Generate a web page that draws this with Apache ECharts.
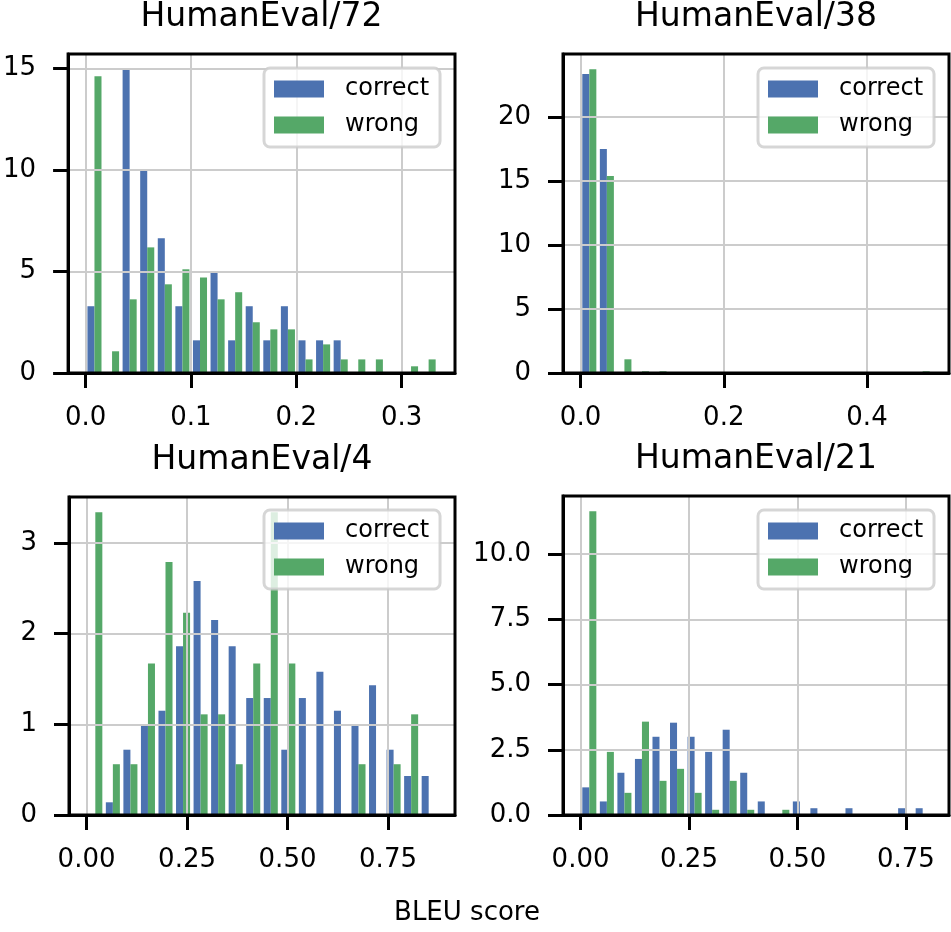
<!DOCTYPE html>
<html><head><meta charset="utf-8">
<script src="https://cdn.jsdelivr.net/npm/echarts@6/dist/echarts.min.js"></script>
<style>html,body{margin:0;padding:0;background:#fff}#c{width:951px;height:932px}</style>
</head><body><div id="c"></div>
<script>
// ---- data (density histograms, 20 equal bins over [start, end]) ----
const seriesNames = ['correct', 'wrong'];
const titles = ['HumanEval/72', 'HumanEval/38', 'HumanEval/4', 'HumanEval/21'];
const xLabelText = 'BLEU score';

const range72 = [0, 0.334];
const correct72 = [3.29,0,14.97,9.99,6.64,3.29,1.61,4.96,1.61,3.29,1.61,3.29,1.61,1.61,1.61,0,0,0,0,0];
const wrong72 = [14.62,1.07,3.63,6.19,4.37,5.11,4.71,3.63,3.98,2.50,2.15,2.15,0.67,1.41,0.67,0.67,0.67,0,0.33,0.67];
const xticks72 = [0, 0.1, 0.2, 0.3];
const yticks72 = [0, 5, 10, 15];

const range38 = [0, 0.49];
const correct38 = [23.36,17.50,0,0,0,0,0,0,0,0,0,0,0,0,0,0,0,0,0,0];
const wrong38 = [23.73,15.38,1.07,0.13,0.13,0,0,0,0,0,0,0,0,0,0,0,0,0,0,0.13];
const xticks38 = [0, 0.2, 0.4];
const yticks38 = [0, 5, 10, 15, 20];

const range4 = [0, 0.873];
const correct4 = [0,0.14,0.72,1.00,1.15,1.86,2.58,2.15,1.86,1.29,1.29,0.72,1.29,1.58,1.15,1.00,1.43,0.72,0.43,0.43];
const wrong4 = [3.34,0.56,0.56,1.67,2.79,2.23,1.11,1.11,0.56,1.67,3.34,1.67,0,0,0,0.56,0,0.56,1.11,0];
const xticks4 = [0, 0.25, 0.5, 0.75];
const yticks4 = [0, 1, 2, 3];

const range21 = [0, 0.809];
const correct21 = [1.06,0.52,1.62,2.15,3.00,3.54,3.00,2.42,3.27,1.62,0.52,0,0.52,0.26,0,0.26,0,0,0.26,0.26];
const wrong21 = [11.65,2.42,0.85,3.58,1.31,1.77,0.85,0.20,1.31,0.20,0,0.20,0,0,0,0,0,0,0,0];
const xticks21 = [0, 0.25, 0.5, 0.75];
const yticks21 = [0, 2.5, 5, 7.5, 10];

// ---- layout / style ----
const FONT = 'DejaVu Sans';
const COLORS = ['#4c72b0', '#55a868'];
const panels = [
  {title: titles[0], range: range72, vals: [correct72, wrong72], xt: xticks72, xd: 1, yt: yticks72, yd: 0,
   grid: {left: 68, top: 54, width: 387, height: 319}, legend: {left: 264, top: 68}},
  {title: titles[1], range: range38, vals: [correct38, wrong38], xt: xticks38, xd: 1, yt: yticks38, yd: 0,
   grid: {left: 563, top: 54, width: 386, height: 319}, legend: {left: 758, top: 68}},
  {title: titles[2], range: range4, vals: [correct4, wrong4], xt: xticks4, xd: 2, yt: yticks4, yd: 0,
   grid: {left: 69, top: 497, width: 386, height: 318}, legend: {left: 264, top: 510}},
  {title: titles[3], range: range21, vals: [correct21, wrong21], xt: xticks21, xd: 2, yt: yticks21, yd: 1,
   grid: {left: 563, top: 496, width: 386, height: 319}, legend: {left: 758, top: 510}}
];

const grids = [], xAxes = [], yAxes = [], series = [], legends = [], graphics = [];
panels.forEach((p, gi) => {
  const lo = p.range[0], hi = p.range[1], span = hi - lo;
  const n = p.vals[0].length, bw = span / n;
  const ymax = Math.max(...p.vals[0], ...p.vals[1]) * 1.05;
  grids.push(Object.assign({show: true, borderColor: '#000', borderWidth: 3, backgroundColor: 'transparent', z: 6}, p.grid));
  const axisCommon = (ticks, dec, margin) => ({
    axisLine: {show: true, onZero: false, lineStyle: {color: '#000', width: 3}},
    axisTick: {show: true, inside: false, length: 15, lineStyle: {color: '#000', width: 3}, customValues: ticks},
    axisLabel: {show: true, customValues: ticks, margin: margin, fontSize: 26, fontFamily: FONT, color: '#000',
                formatter: v => Number(v).toFixed(dec)},
    splitLine: {show: true, lineStyle: {color: '#cccccc', width: 2}},
    z: 5
  });
  xAxes.push(Object.assign({type: 'value', gridIndex: gi, min: lo - 0.05 * span, max: hi + 0.05 * span},
    axisCommon(p.xt, p.xd, 32)));
  yAxes.push(Object.assign({type: 'value', gridIndex: gi, min: 0, max: ymax}, axisCommon(p.yt, p.yd, 32)));
  p.vals.forEach((vals, k) => {
    const data = vals.map((v, i) => {
      const b0 = lo + i * bw;
      return [b0 + bw * (0.1 + 0.4 * k), b0 + bw * (0.5 + 0.4 * k), v];
    });
    series.push({
      type: 'custom', name: seriesNames[k], xAxisIndex: gi, yAxisIndex: gi, z: 2,
      itemStyle: {color: COLORS[k]}, encode: {x: [0, 1], y: 2}, data: data,
      renderItem: (params, api) => {
        const a = api.coord([api.value(0), api.value(2)]);
        const b = api.coord([api.value(1), 0]);
        return {type: 'rect', shape: {x: a[0], y: a[1], width: b[0] - a[0], height: b[1] - a[1]},
                style: {fill: COLORS[k]}};
      }
    });
  });
  legends.push({
    left: p.legend.left, top: p.legend.top, orient: 'vertical', z: 10,
    data: seriesNames.map(s => ({name: s, icon: 'rect'})),
    itemWidth: 50, itemHeight: 17, itemGap: 12,
    padding: [9, 11, 10, 10],
    backgroundColor: 'rgba(255,255,255,0.8)', borderColor: 'rgba(204,204,204,0.8)', borderWidth: 3, borderRadius: 6,
    textStyle: {fontSize: 24, fontFamily: FONT, color: '#000', padding: [0, 0, 0, 16]},
    selectedMode: false
  });
  const cx = p.grid.left + p.grid.width / 2;
  graphics.push({type: 'text', x: cx, y: p.grid.top - 37, z: 20,
    style: {text: p.title, align: 'center', verticalAlign: 'middle', fontSize: 33, fontFamily: FONT, fill: '#000'}});
});
graphics.push({type: 'text', x: 467, y: 913, z: 20,
  style: {text: xLabelText, align: 'center', verticalAlign: 'middle', fontSize: 26, fontFamily: FONT, fill: '#000'}});

const chart = echarts.init(document.getElementById('c'), null, {renderer: 'canvas'});
chart.setOption({
  animation: false,
  backgroundColor: '#fff',
  grid: grids, xAxis: xAxes, yAxis: yAxes, series: series, legend: legends, graphic: graphics
});
</script>
</body></html>
